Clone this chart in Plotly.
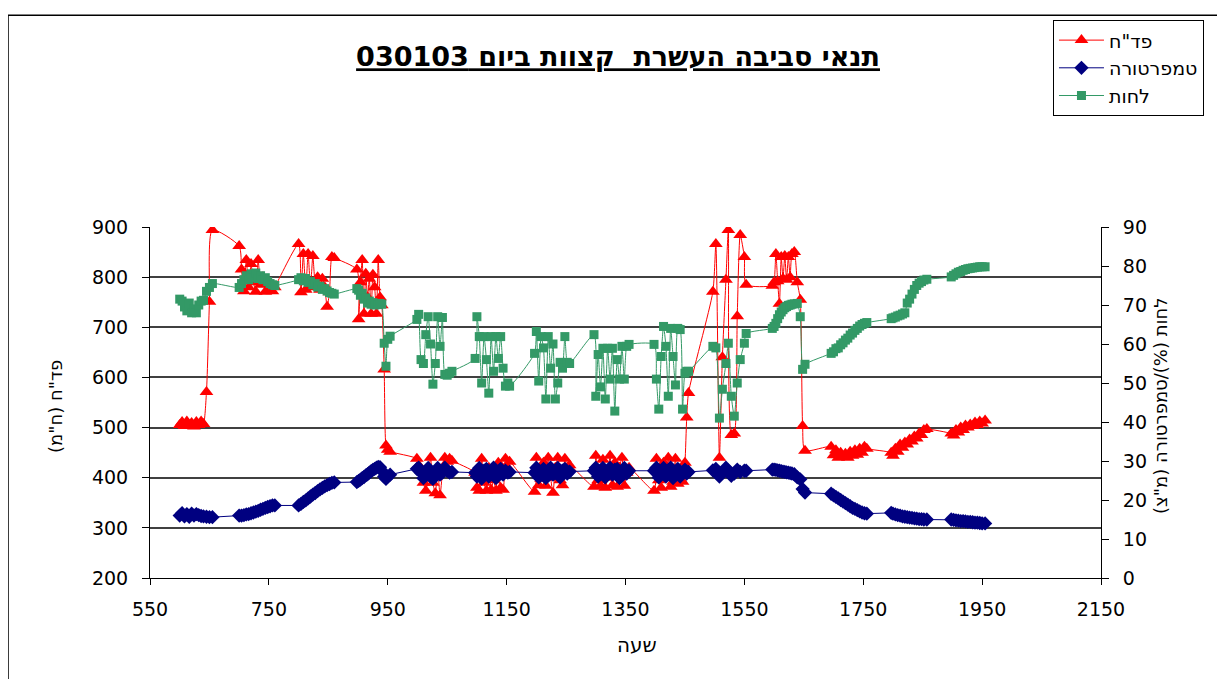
import plotly.graph_objects as go

# time of day (HHMM)
time = [600, 604, 608, 612, 616, 620, 624, 628, 632, 636, 640, 645, 650, 655,
        700, 704, 708, 712, 716, 720, 724, 728, 732, 736, 740, 744, 748, 752, 756, 760,
        800, 804, 808, 812, 816, 820, 824, 828, 832, 836, 840, 844, 848, 852, 856, 860,
        898, 901, 904, 907, 910, 913, 916, 919, 922, 925, 928, 931, 934, 937, 940, 944, 947, 950, 954,
        999, 1002, 1006, 1010, 1014, 1018, 1022, 1026, 1030, 1034, 1038, 1042, 1046, 1050, 1054, 1058,
        1097, 1100, 1104, 1108, 1112, 1116, 1120, 1124, 1128, 1132, 1136, 1140, 1144, 1148, 1152, 1155,
        1197, 1200, 1204, 1208, 1212, 1216, 1220, 1224, 1228, 1232, 1236, 1240, 1244, 1248, 1252, 1256,
        1297, 1300, 1304, 1308, 1312, 1316, 1320, 1324, 1328, 1332, 1336, 1340, 1344, 1348, 1352, 1356,
        1398, 1402, 1406, 1410, 1414, 1418, 1422, 1426, 1430, 1434, 1438, 1442, 1446, 1450, 1453, 1456,
        1497, 1502, 1508, 1513, 1519, 1523, 1528, 1533, 1538, 1543, 1550, 1553,
        1597, 1600, 1603, 1606, 1609, 1612, 1615, 1618, 1621, 1624, 1627, 1630, 1634, 1639, 1644, 1648, 1652,
        1696, 1700, 1704, 1708, 1712, 1716, 1720, 1724, 1728, 1732, 1736, 1740, 1744, 1748, 1752, 1756,
        1797, 1800, 1804, 1808, 1812, 1816, 1820, 1824, 1828, 1832, 1836, 1840, 1844, 1848, 1852, 1857,
        1898, 1902, 1906, 1910, 1914, 1918, 1922, 1926, 1930, 1934, 1938, 1942, 1946, 1950, 1955]

# CO2 (ppm), left axis
co2 = [505, 511, 503, 512, 504, 509, 502, 511, 505, 512, 507, 571, 751, 894,
       862, 815, 772, 834, 780, 826, 790, 771, 834, 785, 800, 771, 790, 775, 772, 780,
       866, 770, 846, 775, 846, 780, 842, 790, 800, 775, 797, 780, 741, 770, 840, 838,
       815, 716, 790, 834, 727, 807, 760, 797, 727, 805, 780, 727, 834, 760, 744, 616, 464, 456, 452,
       438, 425, 418, 390, 374, 400, 440, 390, 369, 415, 365, 410, 440, 432, 438, 434,
       410, 380, 374, 438, 390, 374, 420, 376, 395, 374, 430, 380, 376, 438, 420, 432,
       372, 440, 385, 398, 430, 384, 440, 400, 370, 420, 440, 395, 385, 438, 420, 425,
       382, 444, 395, 384, 436, 380, 400, 444, 385, 430, 382, 420, 440, 384, 410, 420,
       374, 438, 395, 380, 430, 400, 440, 382, 392, 438, 388, 398, 392, 430, 520, 569,
       771, 866, 440, 640, 795, 894, 485, 488, 722, 884, 840, 785,
       783, 790, 846, 792, 747, 840, 797, 842, 795, 840, 800, 846, 850, 790, 755, 503, 454,
       462, 445, 455, 440, 450, 442, 448, 440, 452, 444, 455, 446, 458, 450, 462, 458,
       450, 444, 458, 452, 466, 460, 470, 466, 476, 472, 482, 478, 488, 485, 495, 497,
       488, 484, 495, 490, 500, 495, 504, 500, 506, 503, 510, 505, 512, 508, 514]

# temperature (C), right axis
temp = [16.0, 16.6, 15.8, 16.4, 15.7, 16.5, 16.0, 16.4, 16.1, 15.9, 15.8, 15.7, 15.6, 15.6,
        16.0, 16.0, 16.1, 16.3, 16.4, 16.6, 16.8, 17.0, 17.2, 17.5, 17.7, 18.0, 18.2, 18.4, 18.6, 18.6,
        18.6, 19.0, 19.5, 19.9, 20.4, 20.9, 21.4, 21.8, 22.3, 22.7, 23.1, 23.5, 23.8, 24.1, 24.4, 24.5,
        24.6, 24.9, 25.2, 25.6, 25.9, 26.3, 26.6, 27.0, 27.4, 27.7, 28.0, 28.3, 28.5, 28.4, 27.5, 26.0, 25.4, 26.0, 26.5,
        28.0, 28.3, 27.0, 25.6, 26.8, 28.2, 26.0, 25.4, 27.0, 28.2, 26.5, 27.0, 28.3, 27.5, 27.0, 27.2,
        27.0, 26.0, 28.2, 25.5, 27.5, 28.0, 26.0, 27.2, 28.3, 25.6, 27.0, 28.0, 26.5, 27.5, 27.0, 27.2,
        27.0, 28.3, 25.8, 27.0, 28.0, 25.6, 27.5, 28.3, 26.5, 27.0, 28.2, 25.8, 27.5, 28.0, 26.8, 27.3,
        27.5, 28.3, 26.0, 27.5, 28.2, 25.8, 27.0, 28.3, 26.5, 27.8, 28.0, 25.6, 27.5, 28.2, 26.8, 27.5,
        27.5, 28.3, 25.8, 27.0, 28.2, 26.0, 27.5, 28.3, 25.6, 27.2, 28.0, 26.0, 27.0, 27.8, 26.8, 27.2,
        27.6, 28.0, 26.0, 27.0, 28.3, 27.5, 26.2, 26.8, 27.8, 27.2, 27.5, 27.5,
        27.8, 27.8, 27.7, 27.6, 27.5, 27.4, 27.3, 27.2, 27.1, 27.0, 26.9, 26.8, 26.6, 25.8, 25.3, 22.8, 21.9,
        21.6, 21.2, 20.8, 20.4, 20.0, 19.6, 19.2, 18.8, 18.4, 18.0, 17.7, 17.4, 17.1, 16.8, 16.6, 16.5,
        16.7, 16.5, 16.3, 16.1, 16.0, 15.8, 15.7, 15.6, 15.5, 15.4, 15.3, 15.2, 15.1, 15.1, 15.0, 15.0,
        15.0, 14.9, 14.8, 14.7, 14.6, 14.6, 14.5, 14.4, 14.4, 14.3, 14.2, 14.2, 14.1, 14.0, 14.0]

# relative humidity (%), right axis
hum = [71.5, 71.0, 69.5, 68.5, 70.5, 68.0, 69.0, 68.0, 70.0, 71.0, 71.2, 73.5, 74.5, 75.5,
       74.5, 75.5, 76.5, 77.5, 76.5, 78.0, 77.0, 78.2, 76.8, 77.5, 76.5, 77.0, 76.0, 75.5, 75.2, 75.0,
       76.5, 77.0, 76.2, 76.8, 75.8, 76.0, 75.2, 75.5, 74.6, 74.8, 74.0, 74.2, 73.6, 73.2, 73.0, 72.8,
       74.2, 73.8, 72.5, 73.0, 71.5, 71.8, 70.5, 71.0, 70.2, 70.6, 70.0, 70.3, 70.1, 70.4, 70.2, 60.2, 54.3, 61.2, 62.0,
       66.3, 67.6, 56.0, 55.0, 62.4, 67.0, 60.0, 49.7, 55.0, 67.0, 59.4, 66.8, 52.2, 52.0, 52.5, 53.0,
       56.3, 67.0, 61.9, 50.0, 61.9, 56.0, 47.4, 61.9, 53.0, 61.9, 56.3, 61.9, 53.8, 49.2, 50.0, 49.2,
       57.6, 63.2, 50.5, 61.9, 59.0, 45.9, 61.9, 53.8, 60.0, 45.9, 50.0, 55.3, 53.8, 61.9, 55.3, 55.0,
       62.4, 46.6, 57.3, 49.0, 58.9, 45.9, 58.9, 51.0, 58.9, 42.8, 56.0, 51.0, 59.4, 51.0, 59.4, 59.9,
       59.9, 51.0, 43.3, 56.8, 64.5, 59.4, 46.6, 64.0, 56.8, 49.5, 64.0, 63.7, 43.3, 52.5, 53.0, 53.0,
       59.4, 59.0, 41.0, 48.4, 55.0, 60.2, 46.6, 41.5, 50.0, 56.0, 60.2, 62.7,
       64.0, 64.5, 65.3, 66.5, 67.5, 68.2, 68.8, 69.3, 69.6, 69.9, 70.0, 70.2, 70.3, 70.4, 67.0, 53.5, 54.8,
       57.6, 58.0, 58.8, 59.0, 59.8, 60.3, 61.0, 61.5, 62.3, 62.8, 63.5, 64.0, 64.6, 65.0, 65.3, 65.5,
       66.5, 66.7, 66.9, 67.2, 67.4, 67.7, 68.0, 70.5, 71.5, 72.8, 74.0, 75.0, 75.6, 76.0, 76.4, 76.6,
       77.2, 77.6, 78.0, 78.4, 78.6, 78.9, 79.1, 79.3, 79.4, 79.5, 79.6, 79.7, 79.8, 79.8, 79.8]

x_ticks = [550, 750, 950, 1150, 1350, 1550, 1750, 1950, 2150]
left_ticks = [200, 300, 400, 500, 600, 700, 800, 900]
right_ticks = [0, 10, 20, 30, 40, 50, 60, 70, 80, 90]

names = ['פד"ח', 'טמפרטורה', 'לחות']
title_text = 'תנאי סביבה העשרת  קצוות ביום 030103'
x_title = 'שעה'
y_title = 'פד"ח (ח"מ)'
y2_title = 'לחות (%)/טמפרטורה (מ"צ)'

RLE, PDF = '\u202b', '\u202c'
FONT = 'DejaVu Sans, Liberation Sans, sans-serif'

assert len(time) == len(co2) == len(temp) == len(hum)

fig = go.Figure()
fig.add_trace(go.Scatter(
    x=time, y=co2, name=RLE + names[0] + PDF, mode='lines+markers',
    line=dict(color='#FF0000', width=1, shape='spline', smoothing=0.6),
    marker=dict(symbol='triangle-up', size=12, color='#FF0000')))
fig.add_trace(go.Scatter(
    x=time, y=temp, name=names[1], mode='lines+markers', yaxis='y2',
    line=dict(color='#000080', width=1),
    marker=dict(symbol='diamond', size=11, color='#000080')))
fig.add_trace(go.Scatter(
    x=time, y=hum, name=names[2], mode='lines+markers', yaxis='y2',
    line=dict(color='#339966', width=1, shape='spline', smoothing=0.6),
    marker=dict(symbol='square', size=9, color='#339966')))

axis_font = dict(size=19, family=FONT, color='black')

fig.update_layout(
    width=1225, height=679,
    margin=dict(l=142, r=132, t=217, b=109),
    paper_bgcolor='white', plot_bgcolor='white',
    font=dict(family=FONT, color='black'),
    title=dict(text='<b><u>' + RLE + title_text + PDF + '</u></b>',
               x=0.498, y=0.928, xanchor='center', yanchor='middle',
               font=dict(size=27, family=FONT, color='black')),
    xaxis=dict(range=[550, 2150], tickmode='array', tickvals=x_ticks,
               ticks='outside', ticklen=6, tickcolor='black',
               showline=True, linecolor='black', linewidth=1,
               showgrid=False, zeroline=False, ticklabelstandoff=8,
               tickfont=axis_font),
    yaxis=dict(range=[200, 900], tickmode='array', tickvals=left_ticks,
               ticks='outside', ticklen=7, tickcolor='black',
               showline=True, linecolor='black', linewidth=1,
               showgrid=True, gridcolor='#404040', gridwidth=1.5,
               zeroline=False, ticklabelstandoff=10,
               tickfont=axis_font),
    yaxis2=dict(range=[0, 90], overlaying='y', side='right',
                tickmode='array', tickvals=right_ticks,
                ticks='outside', ticklen=7, tickcolor='black',
                showline=True, linecolor='black', linewidth=1,
                showgrid=False, zeroline=False, ticklabelstandoff=10,
                tickfont=axis_font),
    legend=dict(x=0.9495, y=1.589, xanchor='left', yanchor='top',
                bgcolor='white', bordercolor='black', borderwidth=1,
                font=dict(size=19, family=FONT, color='black'),
                itemwidth=45, tracegroupgap=0),
    showlegend=True,
    shapes=[dict(type='rect', xref='paper', yref='paper',
                 x0=-0.1493, x1=1.25, y0=-0.4, y1=1.603,
                 line=dict(color='black', width=1.5), layer='below')],
    annotations=[
        dict(text=RLE + y_title + PDF, xref='paper', yref='paper',
             x=-0.0999, y=0.49, textangle=-90, showarrow=False,
             xanchor='center', yanchor='middle',
             font=dict(size=18, family=FONT, color='black')),
        dict(text=RLE + y2_title + PDF, xref='paper', yref='paper',
             x=1.062, y=0.49, textangle=-90, showarrow=False,
             xanchor='center', yanchor='middle',
             font=dict(size=18, family=FONT, color='black')),
        dict(text=RLE + x_title + PDF, xref='paper', yref='paper',
             x=0.512, y=-0.19, showarrow=False,
             xanchor='center', yanchor='middle',
             font=dict(size=20, family=FONT, color='black')),
    ],
)

fig.write_html('out.html')
